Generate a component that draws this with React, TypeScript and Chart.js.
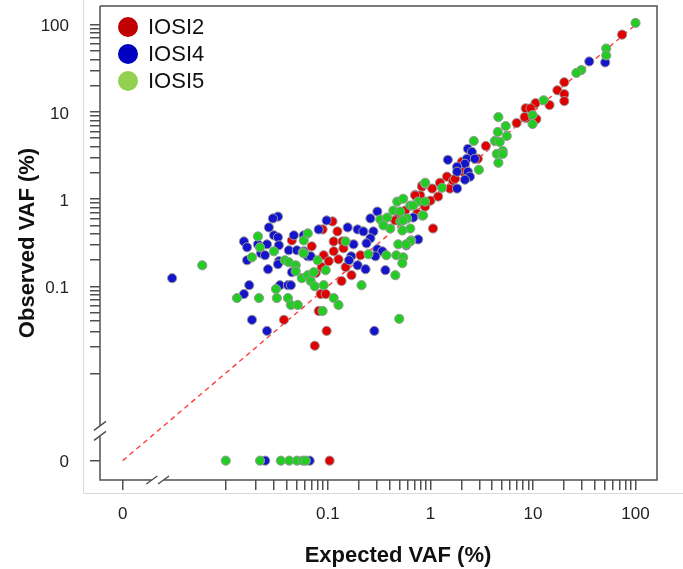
import React, { useEffect, useRef } from 'react';
import { Chart, registerables } from 'chart.js';

Chart.register(...registerables);

// ---------- data: [expected VAF %, observed VAF %] (0 = not detected) ----------
const iosi2: [number, number][] = [
  [0.0373, 0.0412], [0.0446, 0.336], [0.111, 0.554], [0.0889, 0.449], [0.124, 0.426],
  [0.114, 0.327], [0.139, 0.327], [0.142, 0.273], [0.114, 0.252], [0.127, 0.204],
  [0.149, 0.166], [0.091, 0.227], [0.102, 0.194], [0.0871, 0.166], [0.0762, 0.142],
  [0.17, 0.134], [0.136, 0.115], [0.0851, 0.0815], [0.0953, 0.0815], [0.0815, 0.0521],
  [0.0973, 0.0308], [0.0745, 0.0208], [0.0696, 0.287], [0.208, 0.227], [0.83, 1.43],
  [0.71, 1.12], [0.888, 0.82], [1.06, 0.46], [3.47, 4.07], [6.93, 7.45],
  [8.49, 8.5], [1.45, 1.81], [2.03, 2.68], [1.24, 1.54], [1.55, 1.32],
  [1.04, 1.32], [0.83, 1.39], [0.795, 1.1], [1.19, 1.07], [1.0, 0.96],
  [0.71, 1.1], [0.743, 0.684], [74, 77], [20.2, 21.9], [17.3, 17.7],
  [20.2, 16], [20.2, 13.3], [14.5, 12], [10.6, 12.6], [8.49, 11],
  [9.48, 11], [8.29, 8.73], [10.8, 8.28], [2.08, 2.06], [1.66, 1.63],
  [0.569, 0.74], [0.486, 0.615], [2.03, 2.23], [2.9, 2.9], [1.74, 1.71],
  [0.454, 0.569], [0.104, 0],
];

const iosi4: [number, number][] = [
  [0.00303, 0.124], [0.0326, 0.63], [0.0291, 0.6], [0.0266, 0.473], [0.0298, 0.384],
  [0.0326, 0.364], [0.0152, 0.327], [0.0163, 0.28], [0.0208, 0.303], [0.0255, 0.303],
  [0.0333, 0.295], [0.0223, 0.239], [0.0244, 0.227], [0.0163, 0.199], [0.0333, 0.194],
  [0.0326, 0.179], [0.0466, 0.384], [0.0416, 0.259], [0.0498, 0.259], [0.0261, 0.157],
  [0.0171, 0.103], [0.0152, 0.0815], [0.0341, 0.103], [0.0408, 0.103], [0.0436, 0.103],
  [0.0182, 0.0412], [0.0255, 0.0308], [0.0446, 0.145], [0.0637, 0.221], [0.0582, 0.384],
  [0.0973, 0.569], [0.0813, 0.449], [0.156, 0.473], [0.195, 0.449], [0.222, 0.426],
  [0.304, 0.72], [0.26, 0.6], [0.278, 0.426], [0.26, 0.355], [0.238, 0.311],
  [0.178, 0.303], [0.169, 0.221], [0.161, 0.199], [0.195, 0.174], [0.233, 0.157],
  [0.304, 0.266], [0.34, 0.252], [0.291, 0.221], [0.364, 0.153], [0.581, 0.295],
  [0.76, 0.345], [0.068, 0.221], [0.0582, 0.252], [0.284, 0.0308], [0.68, 0.615],
  [2.32, 3.77], [2.54, 3.48], [2.27, 2.9], [2.71, 2.9], [2.17, 2.54],
  [1.82, 2.35], [2.32, 2.06], [1.82, 2.06], [2.43, 1.81], [2.17, 1.67],
  [1.48, 2.82], [1.82, 1.32], [35.4, 37.9], [50.6, 37], [0.0245, 0],
  [0.0665, 0],
];

const iosi5: [number, number][] = [
  [0.00596, 0.174], [0.0208, 0.373], [0.0218, 0.28], [0.0182, 0.215], [0.0298, 0.252],
  [0.0381, 0.199], [0.0416, 0.189], [0.0486, 0.174], [0.0486, 0.149], [0.0557, 0.124],
  [0.0637, 0.134], [0.0312, 0.0929], [0.013, 0.0733], [0.0213, 0.0733], [0.0318, 0.0733],
  [0.0408, 0.0733], [0.0436, 0.0611], [0.0509, 0.0611], [0.0582, 0.336], [0.0569, 0.246],
  [0.0637, 0.404], [0.149, 0.327], [0.249, 0.233], [0.372, 0.227], [0.486, 0.303],
  [0.65, 0.336], [0.465, 0.227], [0.543, 0.215], [0.532, 0.184], [0.455, 0.134],
  [0.213, 0.103], [0.0582, 0.239], [0.0795, 0.199], [0.0953, 0.153], [0.0728, 0.145],
  [0.068, 0.115], [0.0745, 0.1], [0.091, 0.103], [0.114, 0.0733], [0.127, 0.0611],
  [0.0889, 0.0521], [0.497, 0.0423], [0.325, 0.584], [0.38, 0.615], [0.435, 0.74],
  [0.508, 0.72], [0.475, 0.936], [0.543, 1.01], [0.636, 0.843], [0.76, 0.936],
  [0.888, 1.5], [0.888, 0.936], [0.83, 0.649], [0.594, 0.6], [0.508, 0.554],
  [0.406, 0.46], [0.348, 0.499], [0.636, 0.46], [4.6, 8.73], [5.42, 6.89],
  [4.54, 5.89], [4.25, 4.65], [4.74, 4.53], [5.55, 5.3], [5.07, 3.57],
  [4.44, 3.3], [5.07, 3.3], [4.6, 2.61], [2.65, 4.65], [2.97, 2.17],
  [0.888, 1.54], [1.3, 1.35], [0.68, 0.843], [0.849, 0.649], [0.543, 0.569],
  [0.532, 0.437], [0.636, 0.327], [0.58, 0.303], [100, 105], [51.8, 53.4],
  [51.8, 44.5], [29.6, 30.2], [26.5, 28], [12.7, 13.6], [9.91, 9.19],
  [9.91, 7.26], [0.0101, 0], [0.0218, 0], [0.0348, 0], [0.042, 0],
  [0.05, 0], [0.057, 0], [0.061, 0],
];

const seriesNames = ['IOSI2', 'IOSI4', 'IOSI5'];
const pointColors = ['#e00000', '#1414cc', '#22cc22'];
const legendColors = ['#c00000', '#0000c0', '#92d050'];

// axis ticks (value 0 is drawn at the break position 0.001)
const ZERO_POSITION = 0.001;
const tickValues = [
  0.001,
  0.01, 0.02, 0.03, 0.04, 0.05, 0.06, 0.07, 0.08, 0.09,
  0.1, 0.2, 0.3, 0.4, 0.5, 0.6, 0.7, 0.8, 0.9,
  1, 2, 3, 4, 5, 6, 7, 8, 9,
  10, 20, 30, 40, 50, 60, 70, 80, 90,
  100,
];
const tickLabels: Record<string, string> = { '0.001': '0', '0.1': '0.1', '1': '1', '10': '10', '100': '100' };
const identityLine = [ZERO_POSITION, 100];

const X_MIN = 0.000617;
const X_MAX = 162;
const Y_MIN = 0.00064;
const Y_MAX = 164;
const BREAK_LOW = 0.00192;
const BREAK_HIGH = 0.0025;

const FONT = "'Liberation Sans', Arial, sans-serif";

const toPoints = (arr: [number, number][]) =>
  arr.map(([e, o]) => ({ x: e === 0 ? ZERO_POSITION : e, y: o === 0 ? ZERO_POSITION : o }));

const decorPlugin = {
  id: 'decor',
  beforeDraw(chart: any) {
    const { ctx, width, height } = chart;
    ctx.save();
    ctx.fillStyle = '#ffffff';
    ctx.fillRect(0, 0, width, height);
    ctx.strokeStyle = '#d9d9d9';
    ctx.lineWidth = 1;
    ctx.beginPath();
    ctx.moveTo(83.5, 0);
    ctx.lineTo(83.5, 493.5);
    ctx.lineTo(width, 493.5);
    ctx.stroke();
    ctx.restore();
  },
  afterDraw(chart: any) {
    const { ctx, chartArea } = chart;
    const xs = chart.scales.x;
    const ys = chart.scales.y;
    const { left, right, top, bottom } = chartArea;
    ctx.save();
    ctx.strokeStyle = '#505050';
    ctx.lineWidth = 1.5;
    const xb1 = xs.getPixelForValue(BREAK_LOW);
    const xb2 = xs.getPixelForValue(BREAK_HIGH);
    const yb1 = ys.getPixelForValue(BREAK_HIGH);
    const yb2 = ys.getPixelForValue(BREAK_LOW);
    ctx.beginPath();
    ctx.moveTo(left, top);
    ctx.lineTo(right, top);
    ctx.lineTo(right, bottom);
    ctx.lineTo(xb2, bottom);
    ctx.moveTo(xb1, bottom);
    ctx.lineTo(left, bottom);
    ctx.lineTo(left, yb2);
    ctx.moveTo(left, yb1);
    ctx.lineTo(left, top);
    ctx.stroke();
    ctx.beginPath();
    for (const yb of [yb1, yb2]) {
      ctx.moveTo(left - 6, yb + 4.5);
      ctx.lineTo(left + 6, yb - 4.5);
    }
    for (const xb of [xb1, xb2]) {
      ctx.moveTo(xb - 5.5, bottom + 4);
      ctx.lineTo(xb + 5.5, bottom - 4);
    }
    ctx.stroke();

    const legendY = [27, 54, 81];
    seriesNames.forEach((name, i) => {
      ctx.beginPath();
      ctx.fillStyle = legendColors[i];
      ctx.arc(128, legendY[i], 10, 0, Math.PI * 2);
      ctx.fill();
      ctx.fillStyle = '#111';
      ctx.font = `22px ${FONT}`;
      ctx.textAlign = 'left';
      ctx.textBaseline = 'middle';
      ctx.fillText(name, 148, legendY[i] + 1);
    });

    ctx.fillStyle = '#111';
    ctx.font = `bold 22px ${FONT}`;
    ctx.textAlign = 'center';
    ctx.textBaseline = 'middle';
    ctx.fillText('Expected VAF (%)', 398, 556);
    ctx.translate(28, 243);
    ctx.rotate(-Math.PI / 2);
    ctx.fillText('Observed VAF (%)', 0, 0);
    ctx.restore();
  },
};

export default function App() {
  const canvasRef = useRef<HTMLCanvasElement | null>(null);

  useEffect(() => {
    const canvas = canvasRef.current;
    if (!canvas) return;
    const seriesData = [iosi2, iosi4, iosi5];
    const datasets: any[] = seriesData.map((arr, i) => ({
      label: seriesNames[i],
      data: toPoints(arr),
      backgroundColor: pointColors[i],
      borderColor: '#9a9a9a',
      borderWidth: 1,
      pointRadius: 4.6,
      order: 4 - i,
    }));
    datasets.push({
      label: 'identity',
      data: identityLine.map((v) => ({ x: v, y: v })),
      showLine: true,
      borderColor: '#ff3b3b',
      borderWidth: 1.4,
      borderDash: [5, 4],
      pointRadius: 0,
      order: 10,
    });

    const axisCommon = (isX: boolean) => ({
      type: 'logarithmic',
      min: isX ? X_MIN : Y_MIN,
      max: isX ? X_MAX : Y_MAX,
      position: isX ? 'bottom' : 'left',
      afterBuildTicks: (scale: any) => {
        scale.ticks = tickValues.map((v) => ({ value: v }));
      },
      afterFit: (scale: any) => {
        if (isX) scale.height = 89;
        else scale.width = 100;
        scale.paddingTop = 0;
        scale.paddingBottom = 0;
        scale.paddingLeft = 0;
        scale.paddingRight = 0;
      },
      ticks: {
        autoSkip: false,
        maxRotation: 0,
        minRotation: 0,
        padding: isX ? 14 : 21,
        labelOffset: isX ? 0 : 2,
        color: '#222',
        font: { family: FONT, size: 17 },
        callback: (v: number) => tickLabels[String(v)] ?? '',
      },
      grid: {
        display: true,
        drawOnChartArea: false,
        drawTicks: true,
        tickLength: 10,
        color: '#505050',
        lineWidth: 1.5,
      },
      border: { display: false },
    });

    const chart = new Chart(canvas, {
      type: 'scatter',
      data: { datasets },
      options: {
        animation: false,
        responsive: false,
        devicePixelRatio: 1,
        layout: { padding: { left: 0, right: 26, top: 6, bottom: 0 } },
        plugins: { legend: { display: false }, tooltip: { enabled: false } },
        scales: { x: axisCommon(true) as any, y: axisCommon(false) as any },
      },
      plugins: [decorPlugin],
    });
    return () => chart.destroy();
  }, []);

  return (
    <div style={{ position: 'absolute', left: 0, top: 0, width: 683, height: 569, background: '#fff' }}>
      <canvas ref={canvasRef} width={683} height={569} style={{ width: 683, height: 569, display: 'block' }} />
    </div>
  );
}
